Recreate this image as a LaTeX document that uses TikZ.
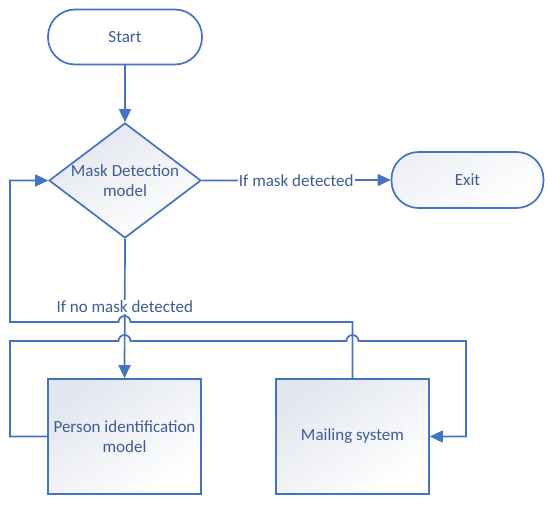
\documentclass[tikz,border=0pt]{standalone}
\usepackage{fontspec}
\setmainfont{Carlito}
\usetikzlibrary{shapes.geometric,arrows.meta}
\definecolor{ln}{RGB}{68,114,196}
\definecolor{tx}{RGB}{62,92,150}
\definecolor{sh}{RGB}{226,230,238}
\tikzset{
  base/.style={draw=ln, line width=1.7pt, inner sep=0pt, text=tx, align=center,
    font=\fontsize{17}{20.5}\selectfont},
  term/.style={base, rectangle, rounded corners=27pt, minimum width=154pt, minimum height=55pt, fill=white},
  termshade/.style={base, rectangle, rounded corners=27pt, minimum width=152pt, minimum height=56pt,
    top color=sh!60, bottom color=white, shading angle=30},
  dec/.style={base, diamond, minimum width=152pt, minimum height=115pt, aspect=1.32,
    top color=sh, bottom color=white, shading angle=30},
  proc/.style={base, rectangle, minimum width=153pt, minimum height=115pt,
    top color=sh, bottom color=white, shading angle=35},
  txt/.style={text=tx, align=center, inner sep=1pt, font=\fontsize{17}{20.5}\selectfont},
  lbl/.style={txt, fill=white, inner sep=1pt},
  conn/.style={draw=ln, line width=1.7pt},
  arr/.style={conn, -{Triangle[length=13pt, width=12pt]}},
}
\begin{document}
\begin{tikzpicture}[x=1pt, y=-1pt]
\useasboundingbox[fill=white] (0,0) rectangle (550,509);
\node[term] (start) at (125,37) {Start};
\node[dec] (mask) at (125,180.5) {};
\node[txt] (masktxt) at (125,180.5) {Mask Detection\\model};
\node[termshade] (exit) at (467.5,180) {Exit};
\node[proc] (person) at (124.5,436.5) {Person identification\\model};
\node[proc] (mail) at (352.5,436.5) {Mailing system};

\coordinate (a1) at (352.5,322);
\coordinate (a2) at (10,322);
\coordinate (a3) at (10,180.5);
\coordinate (b1) at (10,436.5);
\coordinate (b2) at (10,341);
\coordinate (b3) at (466,341);
\coordinate (b4) at (466,436.5);

\draw[arr] (start.south) -- (mask.north);
\draw[arr] (mask.east) -- node[lbl] {If mask detected} (exit.west);
\draw[arr] (mask.south) -- node[lbl, pos=0.49] {If no mask detected} (person.north);

\draw[arr] (mail.north) -- (a1) -- (130.5,322) arc (0:-180:6) -- (a2) -- (a3) -- (mask.west);
\draw[arr] (person.west) -- (b1) -- (b2) -- (118.5,341) arc (180:360:6)
  -- (346.5,341) arc (180:360:6) -- (b3) -- (b4) -- (mail.east);
\end{tikzpicture}
\end{document}
